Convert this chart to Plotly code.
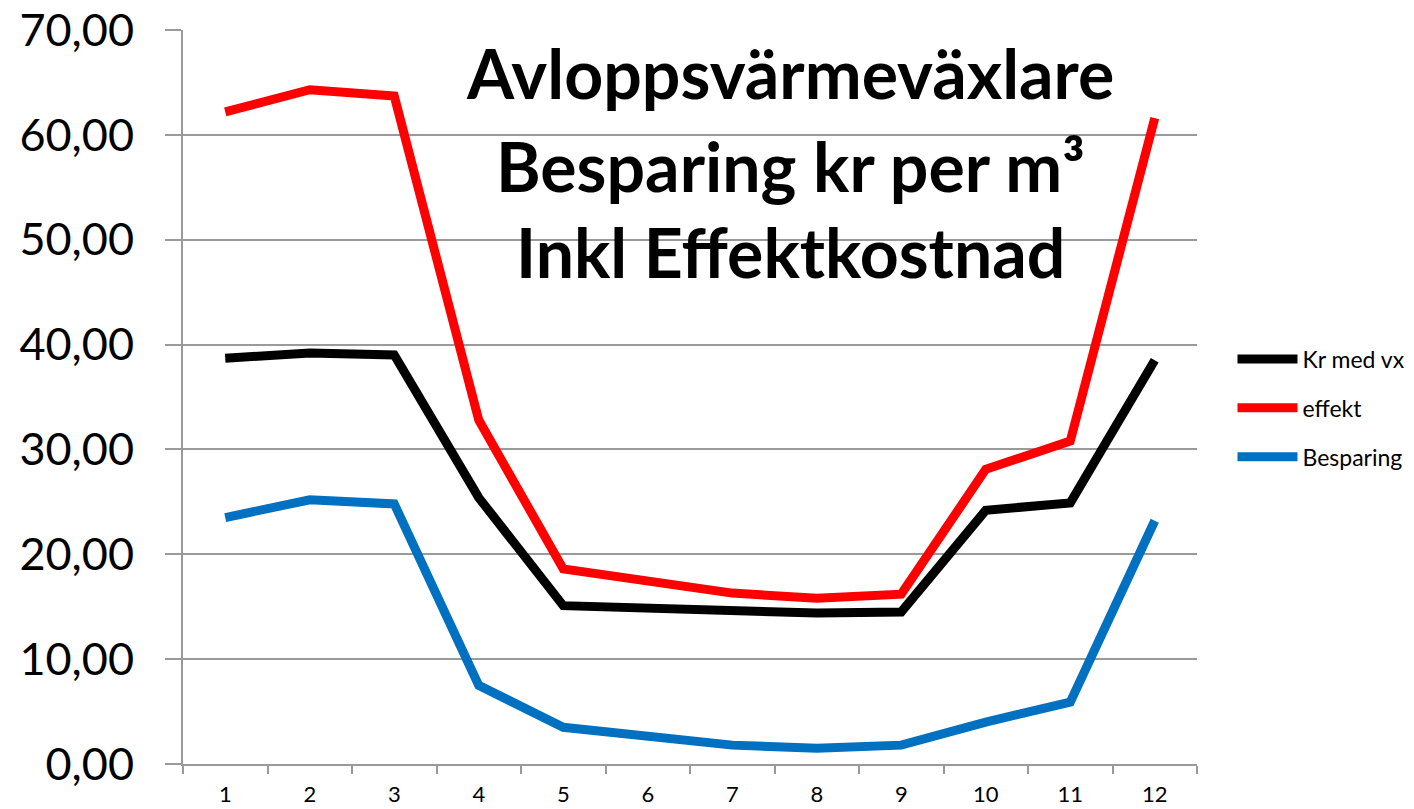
import plotly.graph_objects as go

months = [str(m) for m in range(1, 13)]
kr_med_vx = [38.7, 39.2, 39.0, 25.4, 15.1, 14.8, 14.6, 14.4, 14.5, 24.2, 24.9, 38.5]
effekt = [62.2, 64.3, 63.7, 32.8, 18.6, 17.5, 16.3, 15.8, 16.2, 28.1, 30.8, 61.6]
besparing = [23.5, 25.2, 24.8, 7.5, 3.5, 2.7, 1.8, 1.5, 1.8, 4.0, 5.9, 23.2]

title_lines = ["Avloppsvärmeväxlare", "Besparing kr per m³", "Inkl Effektkostnad"]

series = [
    ("Kr med vx", kr_med_vx, "#000000"),
    ("effekt", effekt, "#FF0000"),
    ("Besparing", besparing, "#0070C0"),
]

fig = go.Figure()
for name, values, color in series:
    fig.add_trace(go.Scatter(
        x=months,
        y=values,
        name=name,
        mode="lines",
        line=dict(color=color, width=9),
        legendgroup=name,
    ))

grid = "#9A9A9A"
fig.update_layout(
    width=1414,
    height=809,
    plot_bgcolor="white",
    paper_bgcolor="white",
    font=dict(family="Lato, Open Sans, sans-serif", color="black"),
    margin=dict(l=175, r=220, t=22, b=53),
    separators=",.",
    legend=dict(
        x=1.035, y=0.485, xanchor="left", yanchor="middle",
        font=dict(size=23), tracegroupgap=16, itemwidth=60,
    ),
    xaxis=dict(
        type="category",
        range=[-0.5, 11.5],
        tickson="boundaries",
        ticks="outside", ticklen=8, tickcolor=grid, tickwidth=2,
        showline=True, linecolor=grid, linewidth=2,
        showgrid=False,
        tickfont=dict(size=22),
        ticklabelstandoff=10,
        automargin=False,
    ),
    yaxis=dict(
        range=[0, 70], dtick=10, tickformat=".2f",
        ticks="outside", ticklen=16, tickcolor=grid, tickwidth=2,
        showline=True, linecolor=grid, linewidth=2,
        showgrid=True, gridcolor=grid, gridwidth=2,
        tickfont=dict(size=45),
        ticklabelstandoff=22,
        ticklabeloverflow="allow",
        zeroline=False,
        automargin=False,
    ),
)

# title: one line per annotation, with a tight white patch under each line
# (covers the gridlines but stays under the data lines)
line_y = [0.942, 0.816, 0.698]
patch_x = [(0.273, 0.920), (0.300, 0.898), (0.328, 0.870)]
patch_h = 0.046
for text, y, (x0, x1) in zip(title_lines, line_y, patch_x):
    fig.add_shape(
        type="rect", xref="paper", yref="paper",
        x0=x0, x1=x1, y0=y - patch_h, y1=y + patch_h,
        fillcolor="white", line_width=0, layer="between",
    )
    fig.add_annotation(
        x=0.599, y=y, xref="paper", yref="paper",
        xanchor="center", yanchor="middle",
        text=f"<b>{text}</b>",
        showarrow=False,
        font=dict(size=68, color="black"),
    )

fig.write_html("out.html")
